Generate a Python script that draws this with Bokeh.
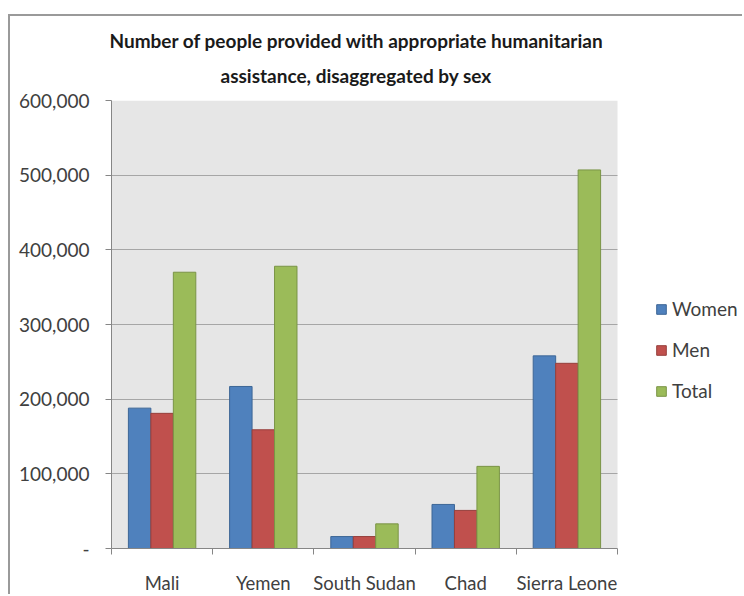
from bokeh.plotting import figure
from bokeh.models import (ColumnDataSource, FixedTicker, NumeralTickFormatter,
                          Legend, LegendItem, Title, Range1d, BoxAnnotation)
from bokeh.embed import file_html
from bokeh.resources import INLINE
import numpy as np

# --- data -------------------------------------------------------------
categories = ["Mali", "Yemen", "South Sudan", "Chad", "Sierra Leone"]
women = [188000, 217000, 16000, 59000, 258000]
men = [181000, 159000, 16000, 51000, 248000]
total = [370000, 378000, 33000, 110000, 507000]
series_names = ["Women", "Men", "Total"]
y_ticks = [0, 100000, 200000, 300000, 400000, 500000, 600000]

FONT = "Lato"
TEXT = "#404040"
n = len(categories)

# the frame runs to the right edge so the legend can sit beside the bars;
# the grey plot area only covers the category span [0, n]
PLOT_W = 506          # px taken by the categories
FRAME_W = 633         # px of the whole frame
p = figure(
    width=734, height=580,
    x_range=Range1d(0, n * FRAME_W / PLOT_W), y_range=Range1d(0, 600000),
    output_backend="svg", toolbar_location=None,
    min_border_left=101, min_border_right=0,
    min_border_top=84, min_border_bottom=40,
    styles={"margin-left": "8px", "margin-top": "14px",
            "border-left": "2px solid #9a9a9a",
            "border-top": "2px solid #9a9a9a"},
)
p.background_fill_color = "white"
p.border_fill_color = "white"
p.outline_line_color = None
p.add_layout(BoxAnnotation(left=0, right=n, fill_color="#e6e6e6",
                           fill_alpha=1, line_color=None, level="image"))

# two-line title
p.title.text = "Number of people provided with appropriate humanitarian"
p.title.align = "left"
p.title.offset = -2
p.title.text_font = FONT
p.title.text_font_size = "19px"
p.title.text_font_style = "bold"
p.title.text_color = "#1a1a1a"
p.title.text_line_height = 1.0
p.title.standoff = -7
sub_title = Title(text="assistance, disaggregated by sex",
                  align="left", offset=109, text_font=FONT,
                  text_font_size="19px", text_font_style="bold",
                  text_color="#1a1a1a", text_line_height=1.0, standoff=27)
p.add_layout(sub_title, "above")

# grouped bars
idx = np.arange(n) + 0.5
bar_w = 0.222
fills = ["#4f81bd", "#c0504d", "#9bbb59"]
edges = ["#3d6696", "#963f3c", "#7a9446"]
items = []
for k, (name, vals) in enumerate(zip(series_names, [women, men, total])):
    src = ColumnDataSource(dict(x=idx + (k - 1) * bar_w, top=vals))
    r = p.vbar(x="x", top="top", width=bar_w, bottom=0, source=src,
               fill_color=fills[k], line_color=edges[k], line_width=1)
    items.append(LegendItem(label=name, renderers=[r]))

# y axis
p.yaxis.ticker = FixedTicker(ticks=y_ticks)
p.yaxis.formatter = NumeralTickFormatter(format="0,0")
p.yaxis.major_label_overrides = {0: "-"}
p.yaxis.axis_line_color = "#868686"
p.yaxis.major_tick_line_color = "#868686"
p.yaxis.major_tick_out = 6
p.yaxis.major_tick_in = 0
p.yaxis.minor_tick_line_color = None
p.yaxis.major_label_text_font = FONT
p.yaxis.major_label_text_font_size = "19px"
p.yaxis.major_label_text_color = TEXT
p.yaxis.major_label_standoff = 16

# x axis: labels centred on groups, tick marks on group boundaries
p.xaxis.ticker = FixedTicker(ticks=list(idx), minor_ticks=list(range(n + 1)))
p.xaxis.major_label_overrides = {float(v): c for v, c in zip(idx, categories)}
p.xaxis.bounds = (0, n)
p.xaxis.axis_line_color = "#868686"
p.xaxis.major_tick_line_color = None
p.xaxis.major_tick_out = 0
p.xaxis.major_tick_in = 0
p.xaxis.minor_tick_line_color = "#868686"
p.xaxis.minor_tick_out = 6
p.xaxis.minor_tick_in = 0
p.xaxis.major_label_text_font = FONT
p.xaxis.major_label_text_font_size = "18.5px"
p.xaxis.major_label_text_color = TEXT
p.xaxis.major_label_standoff = 17

p.xgrid.grid_line_color = None
p.ygrid.ticker = FixedTicker(ticks=y_ticks)
p.ygrid.cross_bounds = (0, n)
p.ygrid.grid_line_color = "#a6a6a6"

legend = Legend(items=items, location=(544, 146),
                label_text_font=FONT, label_text_font_size="19px",
                label_text_color=TEXT, glyph_width=12, glyph_height=12,
                label_height=22, spacing=18, padding=0, margin=0,
                label_standoff=5, border_line_color=None,
                background_fill_alpha=0)
p.add_layout(legend)

open("out.html", "w").write(file_html(p, INLINE))
